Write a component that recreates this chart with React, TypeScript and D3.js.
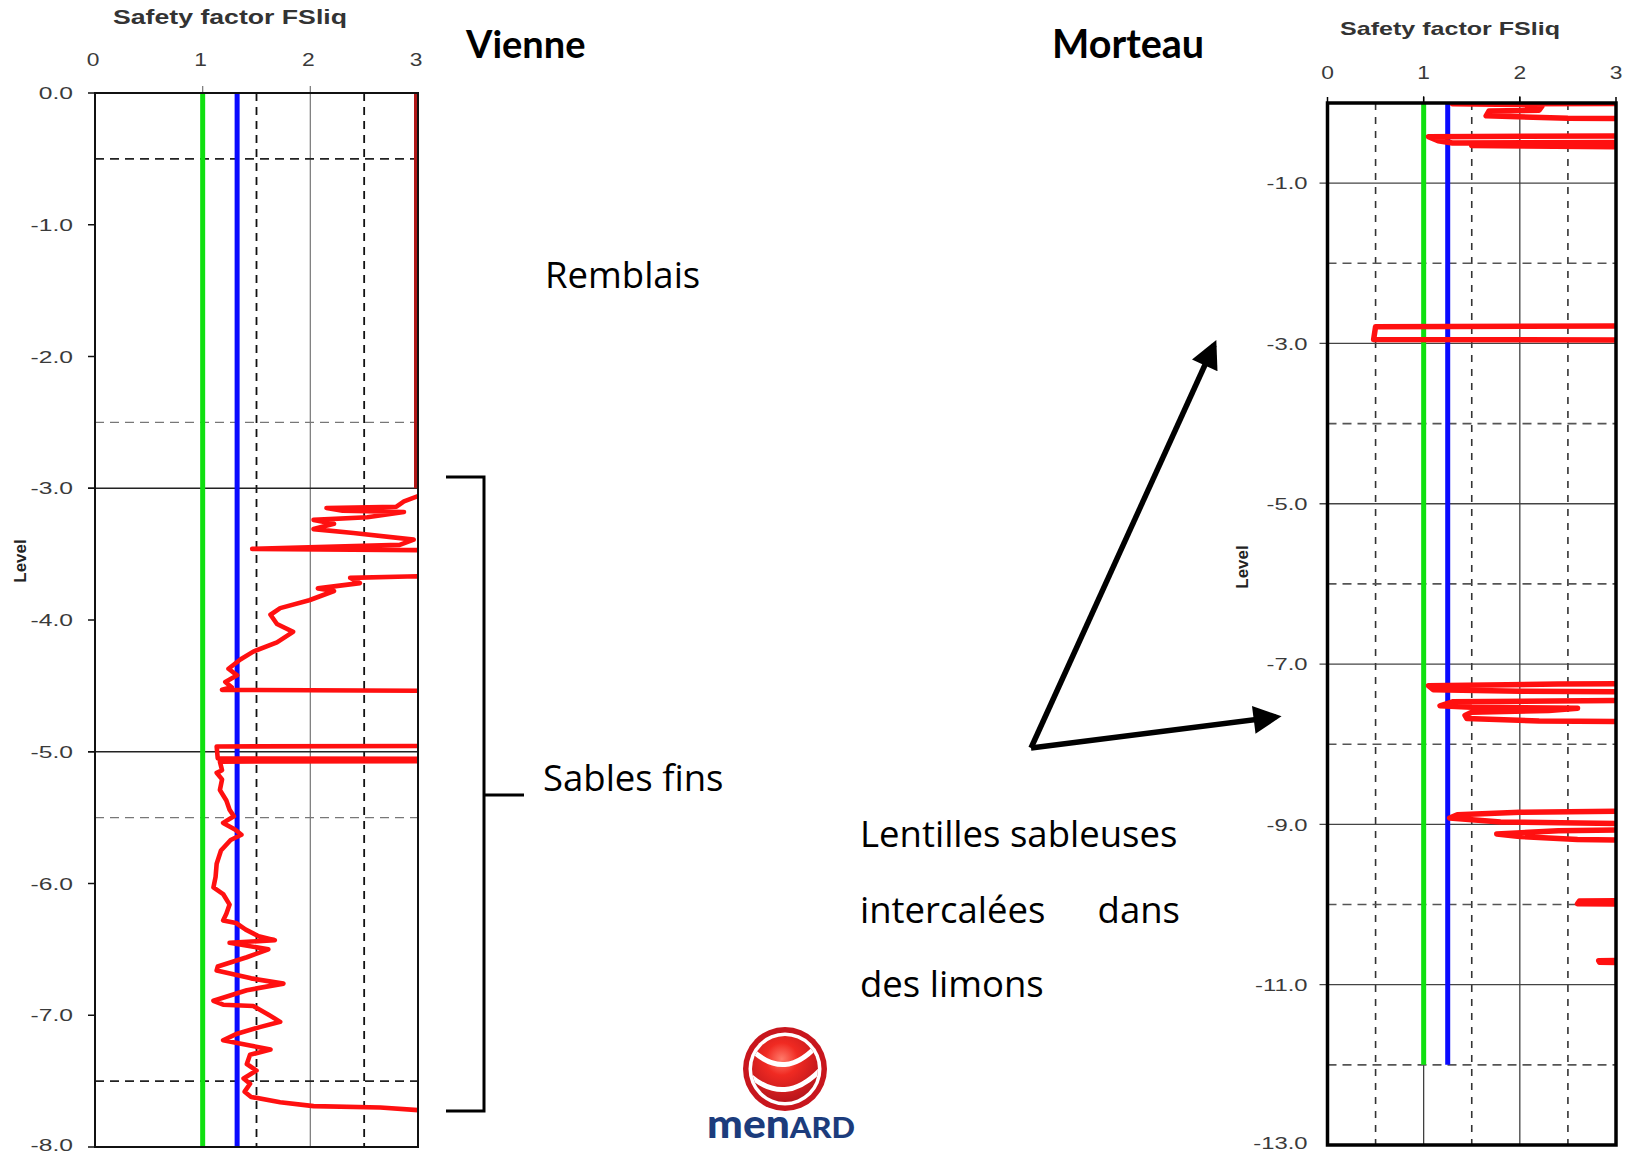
import React from "react";
import * as d3 from "d3";

const W = 1633;
const H = 1155;

// Safety factor axis (both profiles)
const fsTicks = [0, 1, 2, 3];
const fsSolidCols = [1, 2];

// ---------- Vienne profile ----------
const vienneLevelTicks = [0, -1, -2, -3, -4, -5, -6, -7, -8];
const vienneSolidRows = [-3, -5];
const vienneDashedRowsDark = [-0.5, -7.5];
const vienneDashedRowsLight = [-2.5, -5.5];
const vienneDashedCols = [1.5, 2.5];
const vienneLimitFS = 1.0;
const vienneDesignFS = 1.32;
// fill layer (FS above the axis range, drawn on the right edge)
const vienneFillLevels = [0, -3.0];
const vienneFillFS = [3, 3];
// FSliq profile in the fine sands (values above 3 leave the plot)
const vienneLevels = [
  -3.02, -3.06, -3.1, -3.14, -3.15, -3.17, -3.18, -3.22, -3.24, -3.27, -3.31, -3.34,
  -3.39, -3.43, -3.46, -3.47, -3.48, -3.66, -3.67, -3.68, -3.72, -3.76, -3.78, -3.85,
  -3.91, -3.96, -4.03, -4.09, -4.17, -4.24, -4.3, -4.37, -4.42, -4.47, -4.51, -4.53,
  -4.54, -4.955, -4.96, -5.05, -5.055, -5.07, -5.075, -5.14, -5.16, -5.21, -5.29,
  -5.37, -5.44, -5.49, -5.54, -5.59, -5.63, -5.67, -5.75, -5.85, -5.95, -6.03, -6.08,
  -6.16, -6.23, -6.28, -6.3, -6.35, -6.4, -6.43, -6.45, -6.5, -6.56, -6.63, -6.66,
  -6.72, -6.76, -6.81, -6.89, -6.92, -6.93, -6.99, -7.05, -7.09, -7.14, -7.19, -7.23,
  -7.26, -7.3, -7.37, -7.42, -7.48, -7.52, -7.58, -7.62, -7.66, -7.69, -7.7, -7.72, -7.73,
];
const vienneFS = [
  3.6, 3.0, 2.87, 2.8, 2.15, 2.3, 2.87, 2.53, 2.03, 2.22, 2.03, 2.4,
  2.96, 2.83, 1.46, 3.0, 3.6, 3.6, 2.9, 2.37, 2.46, 2.07, 2.22, 1.99,
  1.72, 1.63, 1.69, 1.84, 1.69, 1.47, 1.35, 1.24, 1.32, 1.21, 1.27, 1.18,
  3.6, 3.6, 1.13, 1.14, 3.6, 3.6, 1.16, 1.18, 1.13, 1.18, 1.16,
  1.22, 1.25, 1.29, 1.19, 1.3, 1.36, 1.26, 1.17, 1.13, 1.12, 1.1, 1.19,
  1.25, 1.22, 1.19, 1.31, 1.4, 1.52, 1.67, 1.25, 1.61, 1.41, 1.14, 1.13,
  1.45, 1.75, 1.41, 1.1, 1.19, 1.47, 1.6, 1.72, 1.53, 1.32, 1.19, 1.44,
  1.63, 1.44, 1.41, 1.5, 1.38, 1.44, 1.39, 1.45, 1.72, 2.03, 2.65, 3.0, 3.6,
];

// ---------- Morteau profile ----------
const morteauLevelTicks = [-1, -3, -5, -7, -9, -11, -13];
const morteauSolidRows = [-1, -3, -5, -7, -9, -11];
const morteauDashedRows = [-2, -4, -6, -8, -10, -12];
const morteauDashedCols = [0.5, 1.5, 2.5];
const morteauLimitFS = 1.0;
const morteauDesignFS = 1.25;
const morteauCriteriaBottom = -12;
// FSliq profile: sandy lenses inside the silts (values above 3 leave the plot)
const morteauLevels = [
  -0.005, -0.01, -0.02, -0.04, -0.09, -0.1, -0.16, -0.19, -0.195,
  -0.41, -0.42, -0.47, -0.5, -0.49, -0.52, -0.53, -0.55,
  -2.78, -2.79, -2.95, -2.96,
  -7.24, -7.25, -7.27, -7.32, -7.34, -7.35,
  -7.45, -7.47, -7.52, -7.54, -7.55, -7.58, -7.6, -7.64, -7.68, -7.71, -7.72,
  -8.83, -8.85, -8.88, -8.92, -8.97, -8.99, -8.995,
  -9.06, -9.08, -9.12, -9.15, -9.19, -9.2,
  -9.95, -9.955, -9.99, -9.995,
  -10.69, -10.7, -10.72, -10.73,
];
const morteauFS = [
  3.6, 1.3, 2.0, 2.23, 2.2, 1.68, 1.65, 2.5, 3.6,
  3.6, 1.05, 1.15, 1.3, 3.6, 3.6, 1.5, 3.6,
  3.6, 0.5, 0.48, 3.6,
  3.6, 2.4, 1.05, 1.1, 2.0, 3.6,
  3.6, 1.3, 1.17, 1.5, 2.6, 2.3, 1.5, 1.43, 1.45, 2.2, 3.6,
  3.6, 2.0, 1.35, 1.27, 1.8, 3.0, 3.6,
  3.6, 2.4, 1.76, 2.0, 2.6, 3.6,
  3.6, 2.62, 2.6, 3.6,
  3.6, 2.82, 2.83, 3.6,
];

const AXIS_FONT = "'Liberation Sans', Arial, sans-serif";
const TEXT_FONT = "'Open Sans', Lato, sans-serif";
const TITLE_FONT = "Lato, 'Open Sans', sans-serif";
const RED = "#ff1010";
const GREEN = "#10e010";
const BLUE = "#0a0aff";

function profileLine(
  x: d3.ScaleLinear<number, number>,
  y: d3.ScaleLinear<number, number>,
  levels: number[],
  fs: number[]
) {
  const pts = levels.map((l, i) => [fs[i], l] as [number, number]);
  return d3
    .line<[number, number]>()
    .x((d) => x(d[0]))
    .y((d) => y(d[1]))(pts) as string;
}

// Axis label with the wide, stretched look of the plotting software
function WideLabel(props: {
  x: number;
  y: number;
  text: string;
  size: number;
  stretch: number;
  anchor?: string;
  dy?: string;
}) {
  const { x, y, text, size, stretch, anchor = "end", dy = "0.36em" } = props;
  return (
    <g transform={`translate(${x},${y}) scale(${stretch},1)`}>
      <text textAnchor={anchor} dy={dy} fontFamily={AXIS_FONT} fontSize={size} fill="#3a3a3a">
        {text}
      </text>
    </g>
  );
}

function ViennePanel() {
  const x = d3.scaleLinear().domain([0, 3]).range([95, 418]);
  const y = d3.scaleLinear().domain([0, -8]).range([93, 1147]);
  const [x0, x1] = x.range();
  const [y0, y1] = y.range();
  return (
    <g>
      <defs>
        <clipPath id="clip-vienne">
          <rect x={x0} y={y0} width={x1 - x0} height={y1 - y0} />
        </clipPath>
      </defs>
      {fsSolidCols.map((v) => (
        <line key={"vs" + v} x1={x(v)} x2={x(v)} y1={y0 - 7} y2={y1} stroke="#808080" strokeWidth={1.3} />
      ))}
      {vienneDashedCols.map((v) => (
        <line key={"vd" + v} x1={x(v)} x2={x(v)} y1={y0} y2={y1} stroke="#111" strokeWidth={1.8} strokeDasharray="8 6" />
      ))}
      {vienneSolidRows.map((v) => (
        <line key={"hs" + v} x1={x0 - 7} x2={x1} y1={y(v)} y2={y(v)} stroke="#222" strokeWidth={1.3} />
      ))}
      {vienneDashedRowsDark.map((v) => (
        <line key={"hdd" + v} x1={x0} x2={x1} y1={y(v)} y2={y(v)} stroke="#222" strokeWidth={1.6} strokeDasharray="9 6" />
      ))}
      {vienneDashedRowsLight.map((v) => (
        <line key={"hdl" + v} x1={x0} x2={x1} y1={y(v)} y2={y(v)} stroke="#777" strokeWidth={1.3} strokeDasharray="9 6" />
      ))}
      <line x1={x(vienneLimitFS)} x2={x(vienneLimitFS)} y1={y0} y2={y1} stroke={GREEN} strokeWidth={5} />
      <line x1={x(vienneDesignFS)} x2={x(vienneDesignFS)} y1={y0} y2={y1} stroke={BLUE} strokeWidth={5} />
      <path
        d={profileLine(x, y, vienneFillLevels, vienneFillFS)}
        transform="translate(-2.5,0)"
        fill="none"
        stroke="#b01818"
        strokeWidth={3}
      />
      <path
        d={profileLine(x, y, vienneLevels, vienneFS)}
        clipPath="url(#clip-vienne)"
        fill="none"
        stroke={RED}
        strokeWidth={4.6}
        strokeLinejoin="round"
        strokeLinecap="round"
      />
      <rect x={x0} y={y0} width={x1 - x0} height={y1 - y0} fill="none" stroke="#111" strokeWidth={2} />
      {vienneLevelTicks.map((v) => (
        <g key={"lt" + v}>
          <line x1={x0 - 7} x2={x0} y1={y(v)} y2={y(v)} stroke="#111" strokeWidth={1.5} />
          <WideLabel x={x0 - 22} y={v === -8 ? y(v) - 2 : y(v)} text={v.toFixed(1)} size={17} stretch={1.45} />
        </g>
      ))}
      {fsTicks.map((v) => (
        <WideLabel key={"ft" + v} x={x(v) - 2} y={66} text={String(v)} size={19} stretch={1.2} anchor="middle" dy="0" />
      ))}
      <text x={230} y={24} textAnchor="middle" textLength={234} lengthAdjust="spacingAndGlyphs" fontFamily={AXIS_FONT} fontSize={20} fontWeight="bold" fill="#333">
        Safety factor FSliq
      </text>
      <text
        transform={`translate(26,561) rotate(-90)`}
        textAnchor="middle"
        fontFamily={AXIS_FONT}
        fontSize={17}
        fontWeight="bold"
        fill="#222"
      >
        Level
      </text>
    </g>
  );
}

function MorteauPanel() {
  const x = d3.scaleLinear().domain([0, 3]).range([1327.5, 1616]);
  const y = d3.scaleLinear().domain([0, -13]).range([103, 1145]);
  const [x0, x1] = x.range();
  const [y0, y1] = y.range();
  return (
    <g>
      <defs>
        <clipPath id="clip-morteau">
          <rect x={x0} y={y0} width={x1 - x0} height={y1 - y0} />
        </clipPath>
      </defs>
      {fsSolidCols.map((v) => (
        <line key={"ms" + v} x1={x(v)} x2={x(v)} y1={y0 - 7} y2={y1} stroke="#333" strokeWidth={1.2} />
      ))}
      {morteauDashedCols.map((v) => (
        <line key={"md" + v} x1={x(v)} x2={x(v)} y1={y0} y2={y1} stroke="#333" strokeWidth={1.6} strokeDasharray="7 7" />
      ))}
      {morteauSolidRows.map((v) => (
        <line key={"mhs" + v} x1={x0 - 8} x2={x1} y1={y(v)} y2={y(v)} stroke="#444" strokeWidth={1.3} />
      ))}
      {morteauDashedRows.map((v) => (
        <line key={"mhd" + v} x1={x0} x2={x1} y1={y(v)} y2={y(v)} stroke="#555" strokeWidth={1.6} strokeDasharray="9 6" />
      ))}
      <line x1={x(morteauLimitFS)} x2={x(morteauLimitFS)} y1={y0} y2={y(morteauCriteriaBottom)} stroke={GREEN} strokeWidth={5} />
      <line x1={x(morteauDesignFS)} x2={x(morteauDesignFS)} y1={y0} y2={y(morteauCriteriaBottom)} stroke={BLUE} strokeWidth={5} />
      <path
        d={profileLine(x, y, morteauLevels, morteauFS)}
        clipPath="url(#clip-morteau)"
        fill="none"
        stroke={RED}
        strokeWidth={5.5}
        strokeLinejoin="round"
        strokeLinecap="round"
      />
      <rect x={x0} y={y0} width={x1 - x0} height={y1 - y0} fill="none" stroke="#000" strokeWidth={3.5} />
      {morteauLevelTicks.map((v) => (
        <WideLabel key={"mlt" + v} x={x0 - 20} y={v === -13 ? y(v) - 2 : y(v)} text={v.toFixed(1)} size={17} stretch={1.4} />
      ))}
      {fsTicks.map((v) => (
        <line key={"mtt" + v} x1={x(v)} x2={x(v)} y1={y0 - 6} y2={y0} stroke="#000" strokeWidth={1.5} />
      ))}
      {fsTicks.map((v) => (
        <WideLabel key={"mft" + v} x={x(v)} y={79} text={String(v)} size={19} stretch={1.2} anchor="middle" dy="0" />
      ))}
      <text x={1450} y={35} textAnchor="middle" textLength={220} lengthAdjust="spacingAndGlyphs" fontFamily={AXIS_FONT} fontSize={19} fontWeight="bold" fill="#333">
        Safety factor FSliq
      </text>
      <text
        transform={`translate(1248,567) rotate(-90)`}
        textAnchor="middle"
        fontFamily={AXIS_FONT}
        fontSize={17}
        fontWeight="bold"
        fill="#222"
      >
        Level
      </text>
    </g>
  );
}

function Logo() {
  const cx = 785;
  const cy = 1069;
  return (
    <g>
      <defs>
        <radialGradient id="sphere" cx="0.45" cy="0.35" r="0.7">
          <stop offset="0" stopColor="#ff7a6a" />
          <stop offset="0.35" stopColor="#f02a22" />
          <stop offset="1" stopColor="#b3121a" />
        </radialGradient>
        <clipPath id="inner-sphere">
          <circle cx={cx} cy={cy} r={33} />
        </clipPath>
      </defs>
      <circle cx={cx} cy={cy} r={42} fill="#c8161d" />
      <circle cx={cx} cy={cy} r={36.5} fill="#fff" />
      <circle cx={cx} cy={cy} r={33} fill="url(#sphere)" />
      <g clipPath="url(#inner-sphere)" fill="none" stroke="#fff" strokeWidth={5}>
        <path d={`M${cx - 36},${cy - 22} Q${cx},${cy + 16} ${cx + 36},${cy - 28}`} />
        <path d={`M${cx - 38},${cy + 4} Q${cx},${cy + 40} ${cx + 38},${cy - 2}`} />
      </g>
      <text x={707} y={1138} textLength={148} lengthAdjust="spacingAndGlyphs" fontFamily="Lato, sans-serif" fontWeight="900" fill="#1c3c7c">
        <tspan fontSize={40}>men</tspan>
        <tspan fontSize={29}>ARD</tspan>
      </text>
    </g>
  );
}

export default function App() {
  return (
    <svg
      width={W}
      height={H}
      viewBox={`0 0 ${W} ${H}`}
      style={{ position: "absolute", left: 0, top: 0, display: "block", background: "#fff" }}
    >
      <defs>
        <marker id="arrow-head" viewBox="0 0 10 10" refX="8" refY="5" markerWidth="30" markerHeight="28" markerUnits="userSpaceOnUse" orient="auto">
          <path d="M0,0 L10,5 L0,10 z" fill="#000" />
        </marker>
      </defs>
      <rect x={0} y={0} width={W} height={H} fill="#fff" />
      <ViennePanel />
      <MorteauPanel />

      <text x={466} y={58} fontFamily={TITLE_FONT} fontSize={38} fontWeight="bold" fill="#000">Vienne</text>
      <text x={1052} y={58} fontFamily={TITLE_FONT} fontSize={39.5} fontWeight="bold" fill="#000">Morteau</text>

      <text x={545} y={288} fontFamily={TEXT_FONT} fontSize={36.5} fill="#000">Remblais</text>
      <text x={543} y={791} fontFamily={TEXT_FONT} fontSize={36.5} fill="#000">Sables fins</text>

      <text x={860} y={847} fontFamily={TEXT_FONT} fontSize={36.5} fill="#000">Lentilles sableuses</text>
      <text x={860} y={923} fontFamily={TEXT_FONT} fontSize={36.5} fill="#000">intercalées</text>
      <text x={1180} y={923} textAnchor="end" fontFamily={TEXT_FONT} fontSize={36.5} fill="#000">dans</text>
      <text x={860} y={997} fontFamily={TEXT_FONT} fontSize={36.5} fill="#000">des limons</text>

      {/* bracket around the fine sands */}
      <path d="M446,477 H484 V1111 H446 M484,795 H524" fill="none" stroke="#000" strokeWidth={3} />

      {/* arrows to the sandy lenses */}
      <line x1={1031} y1={748} x2={1214} y2={345} stroke="#000" strokeWidth={5.5} markerEnd="url(#arrow-head)" />
      <line x1={1031} y1={748} x2={1276} y2={717} stroke="#000" strokeWidth={5.5} markerEnd="url(#arrow-head)" />

      <Logo />
    </svg>
  );
}
